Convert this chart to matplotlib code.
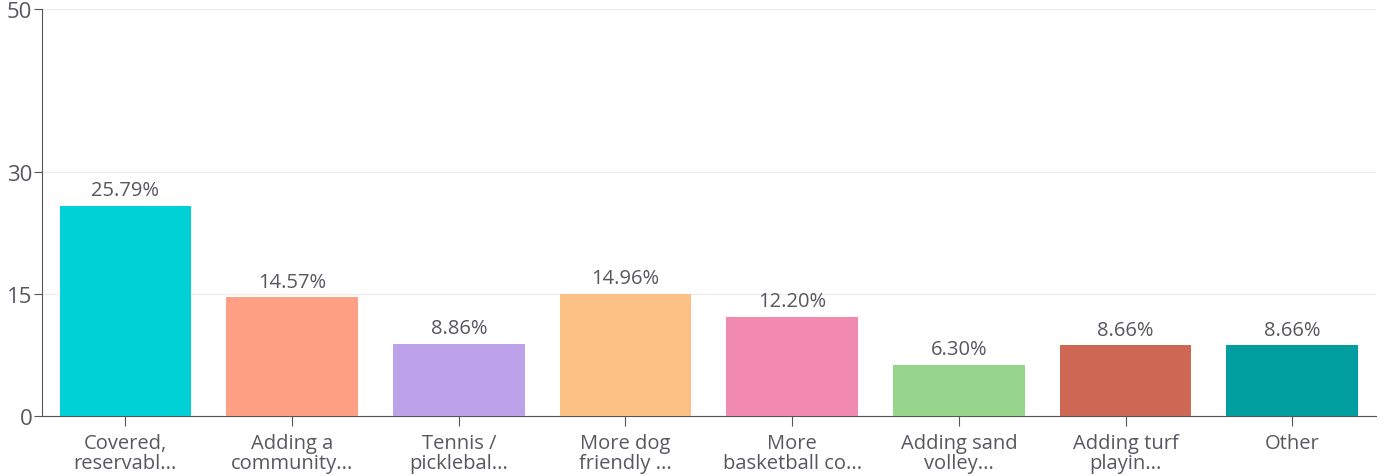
import matplotlib.pyplot as plt
import numpy as np

# === DATA ===
categories = [
    "Covered,\nreservabl...",
    "Adding a\ncommunity...",
    "Tennis /\npicklebal...",
    "More dog\nfriendly ...",
    "More\nbasketball co...",
    "Adding sand\nvolley...",
    "Adding turf\nplayin...",
    "Other",
]
values = [25.79, 14.57, 8.86, 14.96, 12.20, 6.30, 8.66, 8.66]
bar_colors = ["#00D1D6", "#FFA084", "#BCA2E9", "#FBC083",
              "#F28AB0", "#96D58B", "#CE6753", "#009E9E"]
y_ticks = [0, 15, 30, 50]

plt.rcParams['font.family'] = ['Open Sans', 'DejaVu Sans']
text_color = "#575760"

# === FIGURE ===
fig = plt.figure(figsize=(13.79, 4.77), dpi=100)
ax = fig.add_axes([0.0305, 0.126, 0.967, 0.853])

x = np.arange(len(categories))
ax.bar(x, values, width=0.79, color=bar_colors, zorder=3)

for xi, v in zip(x, values):
    ax.text(xi, v + 0.7, f"{v:.2f}%", ha='center', va='bottom',
            fontsize=14.5, color=text_color)

ax.set_xlim(-0.5, len(categories) - 0.5)
ax.set_ylim(0, 50)
ax.set_yticks(y_ticks)
ax.set_xticks(x)
ax.set_xticklabels(categories, fontsize=14.5, color=text_color, linespacing=1.05)
ax.tick_params(axis='y', labelsize=16, labelcolor=text_color, length=6,
               color="#555555", pad=1)
ax.tick_params(axis='x', length=7, color="#555555", pad=5)

ax.grid(axis='y', color="#ececec", linewidth=1, zorder=0)
for side in ['top', 'right']:
    ax.spines[side].set_visible(False)
for side in ['left', 'bottom']:
    ax.spines[side].set_color("#555555")

fig.savefig("out.png", dpi=100)
